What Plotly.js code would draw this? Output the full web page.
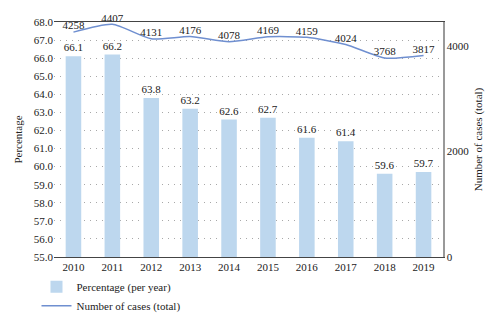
<!DOCTYPE html>
<html>
<head>
<script src="https://cdn.plot.ly/plotly-3.0.1.min.js"></script>
<style>body{margin:0;padding:0;background:#fff;}#chart{width:500px;height:323px;}</style>
</head>
<body>
<div id="chart"></div>
<script>
const years = ['2010','2011','2012','2013','2014','2015','2016','2017','2018','2019'];
const percentage = [66.1, 66.2, 63.8, 63.2, 62.6, 62.7, 61.6, 61.4, 59.6, 59.7];
const cases = [4258, 4407, 4131, 4176, 4078, 4169, 4159, 4024, 3768, 3817];

const font = {family: '"Liberation Serif", "DejaVu Serif", serif', size: 11, color: '#222'};

const bars = {
  type: 'bar', x: years, y: percentage, name: 'Percentage (per year)',
  marker: {color: '#bdd7ee'},
  text: percentage.map(v => v.toFixed(1)), textposition: 'outside', constraintext: 'none',
  textfont: {family: font.family, size: 11, color: '#222'},
  cliponaxis: false, hoverinfo: 'none'
};
const line = {
  type: 'scatter', x: years, y: cases, yaxis: 'y2', name: 'Number of cases (total)',
  mode: 'lines+text', line: {color: '#6f8fd0', width: 1.5, shape: 'spline', smoothing: 0.6},
  text: cases.map(String), textposition: 'top center',
  textfont: {family: font.family, size: 11, color: '#222'},
  cliponaxis: false, hoverinfo: 'none'
};

const layout = {
  width: 500, height: 323,
  margin: {l: 54, r: 57, t: 22, b: 66, autoexpand: false},
  font: font,
  paper_bgcolor: '#fff', plot_bgcolor: '#fff',
  bargap: 0.6,
  showlegend: true,
  legend: {orientation: 'v', x: -0.045, xanchor: 'left', y: -0.065, yanchor: 'top',
           font: {family: font.family, size: 11, color: '#222'}, tracegroupgap: 0,
           itemwidth: 30, bgcolor: 'rgba(0,0,0,0)'},
  xaxis: {type: 'category', showline: true, linecolor: '#444', linewidth: 1, mirror: true,
          ticks: '', tickfont: font, showgrid: false},
  yaxis: {range: [55, 68], dtick: 1, tickformat: '.1f', showline: false, zeroline: false,
          showgrid: true, gridcolor: '#a8a8a8', griddash: '1px,5px', gridwidth: 1,
          ticks: '', tickfont: font,
          title: {text: 'Percentage', font: font, standoff: 8}},
  yaxis2: {range: [0, 4450], dtick: 2000, overlaying: 'y', side: 'right', showgrid: false,
           zeroline: false, showline: true, linecolor: '#999', linewidth: 1.5, ticks: '',
           tickfont: font, title: {text: 'Number of cases (total)', font: font, standoff: 6}}
};

Plotly.newPlot('chart', [bars, line], layout, {displayModeBar: false, staticPlot: true});
</script>
</body>
</html>
